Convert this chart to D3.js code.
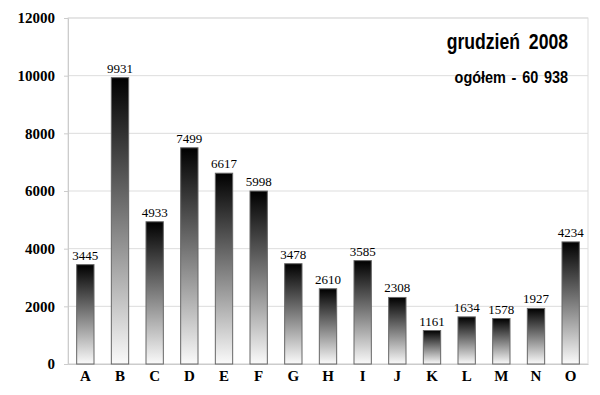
<!DOCTYPE html>
<html><head><meta charset="utf-8">
<script src="https://cdn.jsdelivr.net/npm/d3@7"></script>
<style>body{margin:0;background:#fff}svg{display:block}</style>
</head><body>
<svg id="c" width="600" height="395"></svg>
<script>
const categories = ["A","B","C","D","E","F","G","H","I","J","K","L","M","N","O"];
const values = [3445,9931,4933,7499,6617,5998,3478,2610,3585,2308,1161,1634,1578,1927,4234];
const yTicks = [0,2000,4000,6000,8000,10000,12000];
const title = "grudzień 2008";
const subtitle = "ogółem - 60 938";

(function(){
const svg = d3.select("#c");
const mL = 68, mR = 588, mT = 18, mB = 364;
const serif = "'Liberation Serif', 'Times New Roman', serif";
const narrow = "'Liberation Sans', Arial, sans-serif";
const x = d3.scaleBand().domain(categories).range([mL, mR]).paddingInner(0.5).paddingOuter(0.25);
const y = d3.scaleLinear().domain([0, 12000]).range([mB, mT]);

const defs = svg.append("defs");
const g = defs.append("linearGradient").attr("id","grad").attr("x1",0).attr("y1",0).attr("x2",0).attr("y2",1);
g.append("stop").attr("offset","0%").attr("stop-color","#000");
g.append("stop").attr("offset","100%").attr("stop-color","#fafafa");

svg.append("rect").attr("x",mL).attr("y",mT).attr("width",mR-mL).attr("height",mB-mT)
  .attr("fill","none").attr("stroke","#ddd");
svg.append("g").selectAll("line").data(yTicks).join("line")
  .attr("x1",mL).attr("x2",mR).attr("y1",d=>y(d)).attr("y2",d=>y(d))
  .attr("stroke","#ddd");

const yAxis = svg.append("g").attr("transform",`translate(${mL},0)`)
  .call(d3.axisLeft(y).tickValues(yTicks).tickSize(4).tickPadding(9).tickFormat(d3.format("d")));
yAxis.attr("font-family",serif);
yAxis.select(".domain").attr("stroke","#ccc");
yAxis.selectAll(".tick line").attr("stroke","#ccc");
yAxis.selectAll("text").style("font-family",serif)
  .attr("font-weight","bold").attr("font-size",15).attr("fill","#000");

const xAxis = svg.append("g").attr("transform",`translate(0,${mB})`)
  .call(d3.axisBottom(x).tickSize(0).tickPadding(6));
xAxis.attr("font-family",serif);
xAxis.select(".domain").attr("stroke","#ccc");
xAxis.selectAll("text").style("font-family",serif)
  .attr("font-weight","bold").attr("font-size",15).attr("fill","#000");

svg.append("g").selectAll("rect").data(values).join("rect")
  .attr("x",(d,i)=>x(categories[i])).attr("width",x.bandwidth())
  .attr("y",d=>y(d)).attr("height",d=>mB-y(d))
  .attr("fill","url(#grad)").attr("stroke","#666").attr("stroke-width",1);

svg.append("g").selectAll("text").data(values).join("text")
  .attr("x",(d,i)=>x(categories[i])+x.bandwidth()/2).attr("y",d=>y(d)-5)
  .attr("text-anchor","middle").style("font-family",serif)
  .attr("font-size",13).attr("fill","#000").text(d=>d);

svg.append("text").attr("transform","translate(568,49) scale(0.8,1)").attr("text-anchor","end")
  .style("font-family",narrow).style("word-spacing","5px")
  .attr("font-weight","bold").attr("font-size",22).attr("fill","#000").text(title);
svg.append("text").attr("transform","translate(568,83) scale(0.85,1)").attr("text-anchor","end")
  .style("font-family",narrow).style("word-spacing","2px")
  .attr("font-weight","bold").attr("font-size",17).attr("fill","#000").text(subtitle);
})();
</script>
</body></html>
